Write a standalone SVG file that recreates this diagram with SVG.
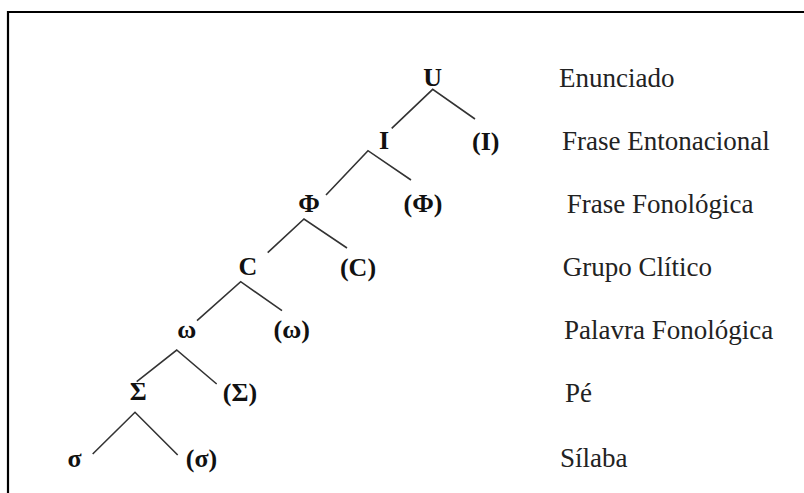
<svg xmlns="http://www.w3.org/2000/svg" width="804" height="493" viewBox="0 0 804 493">
<style>
.n{font-family:"Liberation Serif","Times New Roman",serif;font-weight:bold;font-size:26px;fill:#111;text-anchor:middle}
.l{font-family:"Liberation Serif","Times New Roman",serif;font-size:27px;fill:#222}
.e{stroke:#333;stroke-width:1.6;fill:none}
</style>
<rect width="804" height="493" fill="#fff"/>
<path d="M8 493V12H804" fill="none" stroke="#000" stroke-width="2.2"/>
<g id="connectors">
<path class="e" d="M391.7 128.3L432.7 89.3L475 119"/>
<path class="e" d="M326 195L368 150.7L411 180"/>
<path class="e" d="M267.7 252.7L304 219L347 248"/>
<path class="e" d="M197 320.7L240.7 281.7L282 310.7"/>
<path class="e" d="M136.7 381.7L176.7 350L216.7 384"/>
<path class="e" d="M92.7 454L135 412.3L177.7 455"/>
</g>
<g id="U"><text class="n" x="432.7" y="86">U</text></g>
<g id="I"><text class="n" x="384" y="149">I</text></g>
<g id="I2"><text class="n" x="485.7" y="150">(I)</text></g>
<g id="Phi"><text class="n" x="309" y="212">Φ</text></g>
<g id="Phi2"><text class="n" x="423" y="212">(Φ)</text></g>
<g id="C"><text class="n" x="248" y="275">C</text></g>
<g id="C2"><text class="n" x="358" y="276">(C)</text></g>
<g id="omega"><text class="n" x="186.7" y="338">ω</text></g>
<g id="omega2"><text class="n" x="291.7" y="338">(ω)</text></g>
<g id="Sigma"><text class="n" x="138.3" y="400">Σ</text></g>
<g id="Sigma2"><text class="n" x="240" y="401">(Σ)</text></g>
<g id="sigma"><text class="n" x="74.6" y="467">σ</text></g>
<g id="sigma2"><text class="n" x="201.5" y="467">(σ)</text></g>
<g id="labels">
<text class="l" x="559" y="87">Enunciado</text>
<text class="l" x="562" y="150">Frase Entonacional</text>
<text class="l" x="566.7" y="213">Frase Fonológica</text>
<text class="l" x="562.7" y="276">Grupo Clítico</text>
<text class="l" x="564" y="339">Palavra Fonológica</text>
<text class="l" x="565" y="402">Pé</text>
<text class="l" x="560" y="467">Sílaba</text>
</g>
</svg>
